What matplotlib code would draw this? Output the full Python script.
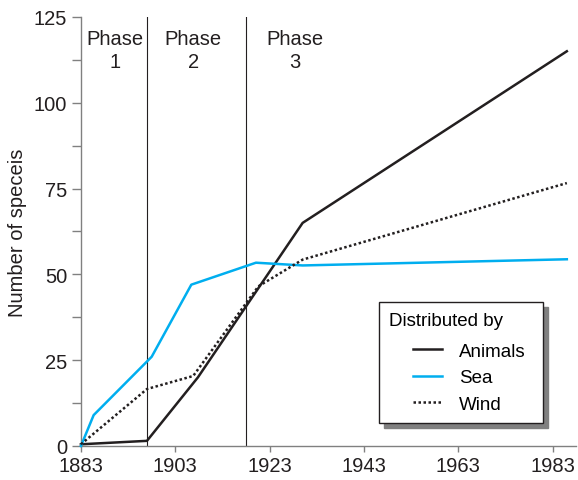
import matplotlib
matplotlib.use('Agg')
import matplotlib.pyplot as plt
from matplotlib.ticker import MultipleLocator
from matplotlib.offsetbox import DrawingArea, HPacker

plt.rcParams['font.family'] = ['Liberation Sans', 'DejaVu Sans']

# data
years_animals = [1883, 1897, 1907.8, 1930, 1986]
animals = [0.5, 1.5, 20, 65, 115]

years_sea = [1883, 1885.7, 1898, 1906.4, 1920.1, 1930, 1986]
sea = [0, 9, 26, 47, 53.4, 52.6, 54.4]

years_wind = [1883, 1897, 1906.8, 1920.6, 1930, 1986]
wind = [0.5, 16.6, 20.4, 46.5, 54.3, 76.6]

phase_bounds = [1897, 1918]
phase_labels = ['Phase\n1', 'Phase\n2', 'Phase\n3']
phase_x = [1890.2, 1906.8, 1928.4]

fig = plt.figure(figsize=(5.78, 4.81), dpi=100)
ax = fig.add_axes([0.140, 0.0707, 0.857, 0.892])

sea_col = '#00AEEF'
dark = '#231F20'

ax.plot(years_animals, animals, color=dark, lw=1.8, label='Animals', clip_on=False, zorder=3)
ax.plot(years_sea, sea, color=sea_col, lw=1.8, label='Sea', clip_on=False, zorder=3)
ax.plot(years_wind, wind, color=dark, lw=1.8, linestyle=(0, (1, 1)),
        dash_capstyle='butt', label='Wind', clip_on=False, zorder=3)

for xb in phase_bounds:
    ax.axvline(xb, color=dark, lw=0.8, zorder=2)

for xp, lab in zip(phase_x, phase_labels):
    ax.text(xp, 121.6, lab, ha='center', va='top', fontsize=14.5,
            color=dark, linespacing=1.3)

ax.set_xlim(1883, 1988)
ax.set_ylim(0, 125)
ax.set_xticks([1883, 1903, 1923, 1943, 1963, 1983])
ax.yaxis.set_major_locator(MultipleLocator(25))
ax.yaxis.set_minor_locator(MultipleLocator(12.5))

for s in ['top', 'right']:
    ax.spines[s].set_visible(False)
for s in ['left', 'bottom']:
    ax.spines[s].set_color('#808080')
    ax.spines[s].set_linewidth(1.0)

ax.tick_params(axis='y', which='both', length=6.5, width=1.0, color='#808080',
               labelsize=14.5, labelcolor=dark, pad=3.5)
ax.tick_params(axis='x', which='major', length=4.5, width=1.0, color='#808080',
               labelsize=14.5, labelcolor=dark, pad=3)

ax.set_ylabel('Number of speceis', fontsize=14.5, color=dark, labelpad=5)

leg = ax.legend(title='Distributed by', loc='upper left',
                bbox_to_anchor=(379 / 578, 1 - 303 / 481),
                bbox_transform=fig.transFigure, borderaxespad=0,
                fontsize=13.5, title_fontsize=13.5, alignment='left',
                handlelength=1.55, handletextpad=0.9, labelspacing=0.5,
                borderpad=0.55, fancybox=False, framealpha=1,
                edgecolor=dark,
                shadow={'ox': 3.5, 'oy': -3.5, 'color': '0.5', 'alpha': 1})
leg.get_frame().set_linewidth(1.0)

# indent the entries under the title
box = leg._legend_box
title_box, handle_box = box.get_children()
box.sep = box.sep + 3
box._children = [title_box,
                 HPacker(pad=0, sep=0, align='center',
                         children=[DrawingArea(17, 1), handle_box, DrawingArea(5, 1)])]

fig.savefig('out.png', dpi=100)
